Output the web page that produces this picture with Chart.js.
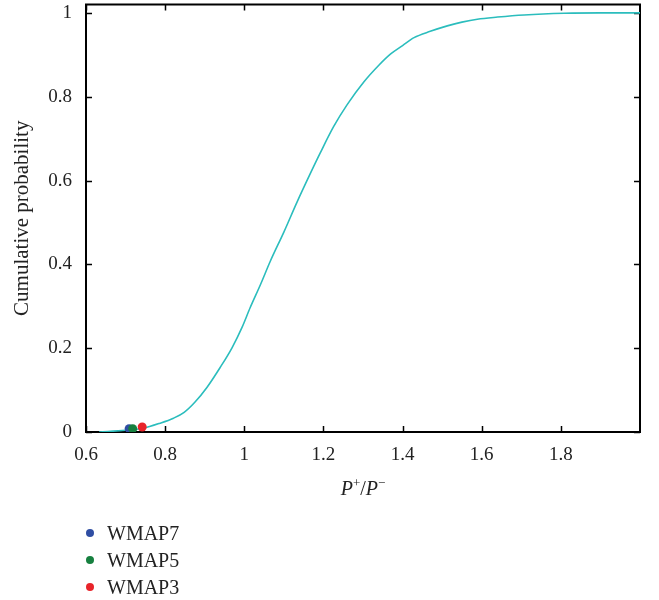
<!DOCTYPE html>
<html>
<head>
<meta charset="utf-8">
<script src="https://cdn.jsdelivr.net/npm/chart.js@4.4.1/dist/chart.umd.min.js"></script>
<style>
  html, body { margin: 0; padding: 0; background: #fff; }
  #wrap { position: relative; width: 659px; height: 600px; }
  #legend { position: absolute; left: 86px; top: 521px; font-family: "Liberation Serif", serif; font-size: 20px; color: #222; }
  #legend div { height: 27px; line-height: 24px; white-space: nowrap; }
  #legend span.dot { display: inline-block; width: 8px; height: 8px; border-radius: 50%; margin-right: 13px; vertical-align: 3px; }
  #xtitle { position: absolute; left: 263px; width: 200px; top: 477px; text-align: center; font-family: "Liberation Serif", serif; font-size: 20px; color: #222; }
  #xtitle sup { font-size: 13px; font-style: normal; vertical-align: 8px; line-height: 0; }
</style>
</head>
<body>
<div id="wrap">
  <canvas id="cdfChart" width="659" height="600"></canvas>
  <div id="xtitle"><i>P</i><sup>+</sup>/<i>P</i><sup>&minus;</sup></div>
  <div id="legend"></div>
</div>
<script>
// cumulative distribution of P+/P-
const pRatio = [0.633, 0.70, 0.744, 0.787, 0.821, 0.848, 0.875, 0.906, 0.939, 0.969, 0.994, 1.015, 1.041, 1.066, 1.10, 1.133, 1.167, 1.192, 1.226, 1.26, 1.302, 1.34, 1.37, 1.40, 1.429, 1.47, 1.513, 1.55, 1.589, 1.64, 1.707, 1.808, 1.90, 2.0];
const cumProb = [0, 0.004, 0.009, 0.021, 0.033, 0.047, 0.071, 0.107, 0.154, 0.201, 0.249, 0.297, 0.352, 0.408, 0.477, 0.548, 0.617, 0.666, 0.729, 0.781, 0.835, 0.875, 0.902, 0.922, 0.941, 0.956, 0.969, 0.978, 0.985, 0.990, 0.995, 0.999, 1.0, 1.0];

// WMAP measured points
const wmapNames = ['WMAP7', 'WMAP5', 'WMAP3'];
const wmapX = [0.709, 0.718, 0.742];
const wmapY = [0.008, 0.008, 0.012];
const wmapColors = ['#2f4ea3', '#16803f', '#e8242a'];

const xTicks = [0.6, 0.8, 1, 1.2, 1.4, 1.6, 1.8];
const yTicks = [0, 0.2, 0.4, 0.6, 0.8, 1];

const serif = '"Liberation Serif", "Times New Roman", serif';
const ctx = document.getElementById('cdfChart').getContext('2d');
const fmt = v => String(Math.round(v * 10) / 10);

// frame + inward ticks on all four sides
const framePlugin = {
  id: 'frame',
  beforeDatasetsDraw(chart) {
    const {ctx, chartArea: a, scales: {x, y}} = chart;
    ctx.save();
    ctx.strokeStyle = '#000';
    ctx.lineWidth = 1.5;
    xTicks.forEach(v => {
      const px = Math.round(x.getPixelForValue(v)) + 0.5;
      ctx.beginPath();
      ctx.moveTo(px, a.bottom); ctx.lineTo(px, a.bottom - 6);
      ctx.moveTo(px, a.top); ctx.lineTo(px, a.top + 6);
      ctx.stroke();
    });
    yTicks.forEach(v => {
      const py = Math.round(y.getPixelForValue(v)) + 0.5;
      ctx.beginPath();
      ctx.moveTo(a.left, py); ctx.lineTo(a.left + 6, py);
      ctx.moveTo(a.right, py); ctx.lineTo(a.right - 6, py);
      ctx.stroke();
    });
    ctx.lineWidth = 2;
    ctx.strokeRect(a.left, a.top, a.right - a.left, a.bottom - a.top);
    ctx.restore();
  }
};

const datasets = [{
  label: 'CDF',
  data: pRatio.map((v, i) => ({x: v, y: cumProb[i]})),
  showLine: true,
  borderColor: '#2bbdbd',
  borderWidth: 1.6,
  pointRadius: 0,
  cubicInterpolationMode: 'monotone',
  order: 10
}];
wmapNames.forEach((name, i) => {
  datasets.push({
    label: name,
    data: [{x: wmapX[i], y: wmapY[i]}],
    backgroundColor: wmapColors[i],
    borderColor: wmapColors[i],
    pointRadius: 4.5,
    borderWidth: 0,
    order: 3 - i
  });
});

const chart = new Chart(ctx, {
  type: 'scatter',
  data: { datasets },
  options: {
    responsive: false,
    animation: false,
    layout: { padding: { top: -2, right: 19, bottom: 0, left: 0 } },
    plugins: { legend: { display: false }, tooltip: { enabled: false } },
    scales: {
      x: {
        type: 'linear',
        min: 0.6,
        max: 2.0,
        afterBuildTicks: s => { s.ticks = xTicks.map(v => ({value: v})); },
        afterFit: s => { s.height = 168; s.paddingLeft = 0; s.paddingRight = 0; },
        grid: { display: false, drawTicks: false },
        border: { display: false },
        ticks: { padding: 12, color: '#222', font: { family: serif, size: 19 }, callback: fmt }
      },
      y: {
        min: 0,
        max: 1.02,
        afterBuildTicks: s => { s.ticks = yTicks.map(v => ({value: v})); },
        afterFit: s => { s.width = 86; s.paddingTop = 0; s.paddingBottom = 0; },
        grid: { display: false, drawTicks: false },
        border: { display: false },
        ticks: { padding: 14, color: '#222', font: { family: serif, size: 19 }, callback: fmt },
        title: {
          display: true,
          text: 'Cumulative probability',
          color: '#222',
          padding: { top: 10, bottom: 0 },
          font: { family: serif, size: 21 }
        }
      }
    }
  },
  plugins: [framePlugin]
});

// legend below the chart, one per line
const legendDiv = document.getElementById('legend');
wmapNames.forEach((name, i) => {
  const row = document.createElement('div');
  row.innerHTML = `<span class="dot" style="background:${wmapColors[i]}"></span>${name}`;
  legendDiv.appendChild(row);
});
</script>
</body>
</html>
